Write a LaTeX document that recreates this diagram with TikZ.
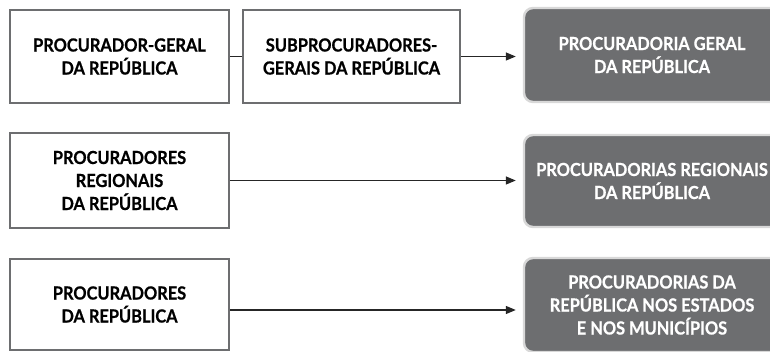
\documentclass[tikz,border=0pt]{standalone}
\usepackage{fontspec}
\setmainfont[FakeStretch=0.91, BoldFeatures={FakeBold=0.8}]{Lato}
\usetikzlibrary{arrows.meta}
\definecolor{boxgray}{HTML}{6D6E70}
\definecolor{rimgray}{HTML}{D8D8D8}
\tikzset{
  wbox/.style={draw=boxgray, line width=2.4pt, fill=white, minimum height=93pt, align=center, inner sep=0pt,
    font=\fontsize{18}{23}\selectfont\bfseries, text=black},
  dbox/.style={draw=rimgray, line width=2.4pt, fill=boxgray, rounded corners=9pt, minimum width=256pt, minimum height=94pt,
    align=center, inner sep=0pt, font=\fontsize{18}{23}\selectfont\bfseries, text=white},
  conn/.style={line width=1.3pt, draw=black!85},
  arr/.style={conn, -{Triangle[length=10pt,width=8pt]}, shorten >=7pt},
}
\begin{document}
\begin{tikzpicture}[x=1pt,y=-1pt]
\useasboundingbox (0,0) rectangle (770,352);
\begin{scope}
\clip (0,0) rectangle (770,352);
\node[wbox, minimum width=219pt] (b1) at (119.5,56.5) {PROCURADOR-GERAL\\DA REPÚBLICA};
\node[wbox, minimum width=217pt] (b2) at (351.5,56.5) {SUBPROCURADORES-\\GERAIS DA REPÚBLICA};
\node[dbox] (d1) at (652,55) {PROCURADORIA GERAL\\DA REPÚBLICA};
\node[wbox, minimum width=219pt, minimum height=95pt] (b2r) at (119.5,180.5) {PROCURADORES\\REGIONAIS\\DA REPÚBLICA};
\node[dbox, minimum height=92pt] (d2) at (652,181) {PROCURADORIAS REGIONAIS\\DA REPÚBLICA};
\node[wbox, minimum width=219pt, minimum height=91pt] (b3) at (119.5,304.5) {PROCURADORES\\DA REPÚBLICA};
\node[dbox, minimum height=94pt] (d3) at (652,305) {PROCURADORIAS DA\\REPÚBLICA NOS ESTADOS\\E NOS MUNICÍPIOS};
\draw[conn] (b1.east) -- (b2.west);
\draw[arr] (b2.east) -- (b2.east -| d1.west);
\draw[arr] (b2r.east) -- (b2r.east -| d2.west);
\draw[arr] ([yshift=-5.5pt]b3.east) -- ([yshift=-5.5pt]b3.east -| d3.west);
\end{scope}
\end{tikzpicture}
\end{document}
